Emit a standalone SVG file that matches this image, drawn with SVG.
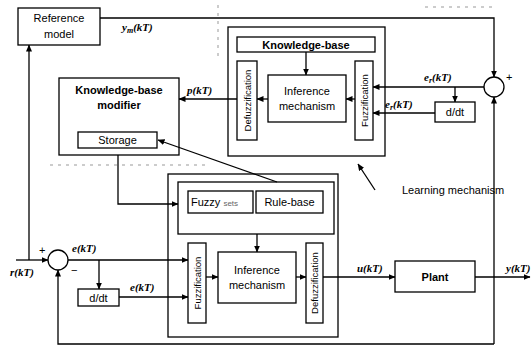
<svg xmlns="http://www.w3.org/2000/svg" width="532" height="347" viewBox="0 0 532 347">
<defs>
<marker id="ah" markerWidth="7" markerHeight="6" refX="6.5" refY="3" orient="auto" markerUnits="userSpaceOnUse">
<path d="M0,0 L7,3 L0,6 Z" fill="#000"/>
</marker>
<style>
.b{fill:#fff;stroke:#000;stroke-width:1.3}
.c{fill:none;stroke:#000;stroke-width:1.3}
.l{fill:none;stroke:#000;stroke-width:1.3}
.a{fill:none;stroke:#000;stroke-width:1.3;marker-end:url(#ah)}
.d{fill:none;stroke:#999;stroke-width:1;stroke-dasharray:3 5}
.t{font-family:"Liberation Sans",Arial,sans-serif;font-size:11px;fill:#000;text-anchor:middle}
.tb{font-family:"Liberation Sans",Arial,sans-serif;font-size:11px;font-weight:bold;fill:#000;text-anchor:middle}
.v{font-family:"Liberation Sans",Arial,sans-serif;font-size:9.5px;fill:#000;text-anchor:middle}
.m{font-family:"Liberation Serif","Times New Roman",serif;font-size:11px;font-style:italic;font-weight:bold;fill:#000}
.s{font-family:"Liberation Sans",Arial,sans-serif;font-size:11px;fill:#000}
</style>
</defs>
<rect width="532" height="347" fill="#fff"/>

<g id="connectors">
<path class="d" d="M218,5 V60"/>
<path class="d" d="M425,7 H495"/>
<path class="d" d="M50,165 H210"/>
<path class="a" d="M100,18 H494 V77"/>
<path class="a" d="M494,344 V97"/>
<path class="a" d="M494,344 H58 V270"/>
<path class="a" d="M16,260 H48"/>
<path class="a" d="M29,260 V45"/>
<path class="a" d="M68,260 H188"/>
<path class="a" d="M99,260 V289"/>
<path class="a" d="M119,297 H188"/>
<path class="a" d="M257,234 V252"/>
<path class="a" d="M206,277 H218"/>
<path class="a" d="M296,277 H306"/>
<path class="a" d="M323,277 H395"/>
<path class="a" d="M475,277 H530"/>
<path class="a" d="M118,155 V204 H178"/>
<path class="a" d="M277,182 L158,140"/>
<path class="a" d="M306,52 V75"/>
<path class="a" d="M268,99 H257"/>
<path class="a" d="M355,99 H346"/>
<path class="a" d="M237,99 H179"/>
<path class="a" d="M484,87 H373"/>
<path class="a" d="M455,87 V102"/>
<path class="a" d="M435,113 H373"/>
<path class="a" d="M375,190 L358,164"/>
</g>

<g id="reference-model">
<rect class="b" x="18" y="8" width="82" height="37"/>
<text class="t" x="59" y="22">Reference</text>
<text class="t" x="59" y="38">model</text>
</g>

<g id="sum-left">
<circle class="b" cx="58" cy="260" r="10"/>
<text class="s" x="39" y="254">+</text>
<text class="s" x="71" y="274">−</text>
</g>

<g id="sum-right">
<circle class="b" cx="494" cy="87" r="10"/>
<text class="s" x="506" y="81">+</text>
</g>

<g id="kb-modifier">
<rect class="c" x="59" y="78" width="120" height="77"/>
<text class="tb" x="119" y="94">Knowledge-base</text>
<text class="tb" x="119" y="109">modifier</text>
<rect class="b" x="78" y="132" width="79" height="16"/>
<text class="t" x="117.5" y="144">Storage</text>
</g>

<g id="learning-fuzzy-system">
<rect class="c" x="228" y="27" width="157" height="129"/>
<rect class="b" x="237" y="37" width="138" height="15"/>
<text class="tb" x="306" y="48.5">Knowledge-base</text>
<rect class="b" x="237" y="61" width="20" height="79"/>
<text class="v" transform="translate(250.5,100.5) rotate(-90)">Defuzzification</text>
<rect class="b" x="268" y="75" width="78" height="47"/>
<text class="t" x="307" y="95">Inference</text>
<text class="t" x="307" y="110">mechanism</text>
<rect class="b" x="355" y="61" width="18" height="79"/>
<text class="v" transform="translate(367.5,100.5) rotate(-90)">Fuzzification</text>
</g>

<g id="ddt-upper">
<rect class="b" x="435" y="102" width="40" height="20"/>
<text class="t" x="455" y="116">d/dt</text>
</g>

<g id="ddt-lower">
<rect class="b" x="78" y="289" width="41" height="17"/>
<text class="t" x="98.5" y="301.5">d/dt</text>
</g>

<g id="fuzzy-controller">
<rect class="c" x="168" y="174" width="170" height="163"/>
<rect class="c" x="178" y="182" width="156" height="52"/>
<rect class="b" x="188" y="191" width="65" height="22"/>
<text class="s" x="191" y="206">Fuzzy <tspan font-size="8" fill="#666">sets</tspan></text>
<rect class="b" x="256" y="191" width="67" height="22"/>
<text class="t" x="289.5" y="206">Rule-base</text>
<rect class="b" x="188" y="243" width="18" height="80"/>
<text class="v" transform="translate(200.5,283) rotate(-90)">Fuzzification</text>
<rect class="b" x="218" y="252" width="78" height="51"/>
<text class="t" x="257" y="274">Inference</text>
<text class="t" x="257" y="289">mechanism</text>
<rect class="b" x="306" y="243" width="17" height="80"/>
<text class="v" transform="translate(318,283) rotate(-90)">Defuzzification</text>
</g>

<g id="plant">
<rect class="b" x="395" y="261" width="80" height="31"/>
<text class="tb" x="435" y="281">Plant</text>
</g>

<g id="labels">
<text class="m" x="122" y="31">y<tspan font-size="8" dy="2">m</tspan><tspan dy="-2">(kT)</tspan></text>
<text class="m" x="187" y="94">p(kT)</text>
<text class="m" x="424" y="81">e<tspan font-size="8" dy="2">r</tspan><tspan dy="-2">(kT)</tspan></text>
<text class="m" x="385" y="108">e<tspan font-size="8" dy="2">r</tspan><tspan dy="-2">(kT)</tspan></text>
<text class="m" x="72" y="252">e(kT)</text>
<text class="m" x="130" y="291">e(kT)</text>
<text class="m" x="10" y="276">r(kT)</text>
<text class="m" x="357" y="272">u(kT)</text>
<text class="m" x="506" y="272">y(kT)</text>
<text class="s" x="402" y="194" font-size="10" fill="#555">Learning mechanism</text>
</g>
</svg>
